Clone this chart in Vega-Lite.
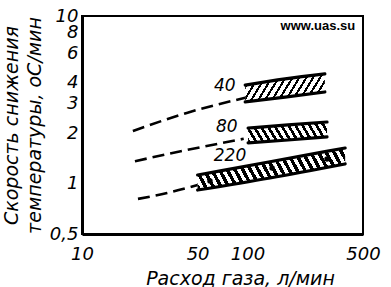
{
  "$schema": "https://vega.github.io/schema/vega-lite/v6.json",
  "width": 281,
  "height": 218,
  "autosize": "none",
  "padding": {"left": 82, "top": 16, "right": 28, "bottom": 53},
  "background": "white",
  "config": {
    "view": {"stroke": "black", "strokeWidth": 2},
    "axis": {
      "grid": false,
      "zindex": 1,
      "ticks": false,
      "domainColor": "black",
      "domainWidth": 3,
      "labelColor": "black",
      "labelFont": "DejaVu Sans",
      "labelFontStyle": "italic",
      "labelFontSize": 18,
      "titleColor": "black",
      "titleFont": "DejaVu Sans",
      "titleFontStyle": "italic",
      "titleFontWeight": "normal",
      "titleFontSize": 19
    }
  },
  "datasets": {
    "bands": [
      {"s": 40, "x": 97, "lo": 3.07, "hi": 3.87},
      {"s": 40, "x": 169, "lo": 3.28, "hi": 4.21},
      {"s": 40, "x": 294, "lo": 3.52, "hi": 4.51},
      {"s": 80, "x": 101, "lo": 1.75, "hi": 2.145},
      {"s": 80, "x": 176, "lo": 1.82, "hi": 2.24},
      {"s": 80, "x": 303, "lo": 1.9, "hi": 2.33},
      {"s": 220, "x": 50, "lo": 0.915, "hi": 1.125},
      {"s": 220, "x": 137, "lo": 1.08, "hi": 1.35},
      {"s": 220, "x": 390, "lo": 1.31, "hi": 1.63}
    ],
    "dashed": [
      {"s": 40, "x": 20.3, "y": 2.06},
      {"s": 40, "x": 43, "y": 2.64},
      {"s": 40, "x": 97, "y": 3.25},
      {"s": 80, "x": 20.9, "y": 1.36},
      {"s": 80, "x": 43, "y": 1.585},
      {"s": 80, "x": 95, "y": 1.85},
      {"s": 220, "x": 21.8, "y": 0.81},
      {"s": 220, "x": 32.7, "y": 0.878},
      {"s": 220, "x": 50, "y": 0.98}
    ],
    "dots": [
      {"x": 59.4, "y": 1.035},
      {"x": 141, "y": 1.24},
      {"x": 303, "y": 1.4}
    ],
    "labels": [
      {"text": "40", "x": 73, "y": 3.82},
      {"text": "80", "x": 75, "y": 2.17},
      {"text": "220", "x": 78.5, "y": 1.46}
    ],
    "mark": [
      {"text": "www.uas.su", "x": 267, "y": 8.24}
    ],
    "xticksMinor": [{"v": 20}, {"v": 30}, {"v": 40}, {"v": 60}, {"v": 70}, {"v": 80}, {"v": 90}, {"v": 200}, {"v": 300}, {"v": 400}],
    "xticksMajor": [{"v": 50}, {"v": 100}],
    "yticksMajor": [{"v": 1}, {"v": 2}, {"v": 3}, {"v": 4}, {"v": 6}, {"v": 8}],
    "yticksMinor": [{"v": 5}, {"v": 7}, {"v": 9}]
  },
  "encoding": {
    "x": {
      "field": "x",
      "type": "quantitative",
      "scale": {"type": "log", "domain": [10, 500], "nice": false},
      "axis": {
        "values": [10, 50, 100, 500],
        "labelExpr": "''+datum.value",
        "labelFlush": false,
        "labelOverlap": false,
        "labelPadding": 11,
        "title": "Расход газа, л/мин",
        "titleX": 158,
        "titleY": 50,
        "titleAlign": "center",
        "titleBaseline": "alphabetic"
      }
    },
    "y": {
      "field": "y",
      "type": "quantitative",
      "scale": {"type": "log", "domain": [0.5, 10], "nice": false},
      "axis": {
        "values": [0.5, 1, 2, 3, 4, 6, 8, 10],
        "labelExpr": "datum.value==0.5 ? '0,5' : ''+datum.value",
        "labelFlush": false,
        "labelOverlap": false,
        "labelPadding": 4,
        "title": ["Скорость снижения", "температуры, oC/мин"],
        "titleAngle": -90,
        "titleX": -80,
        "titleY": 109,
        "titleAlign": "center",
        "titleBaseline": "top",
        "titleLineHeight": 23
      }
    }
  },
  "layer": [
    {
      "data": {"name": "bands"},
      "transform": [{"filter": "datum.s == 40"}],
      "mark": {
        "type": "area",
        "interpolate": "monotone",
        "fill": {
          "gradient": "linear", "x1": 0, "y1": 0, "x2": 1.16, "y2": 0.247,
          "stops": [
            {"offset": 0, "color": "black"}, {"offset": 0.025, "color": "black"}, {"offset": 0.025, "color": "white"}, {"offset": 0.0714, "color": "white"},
            {"offset": 0.0714, "color": "black"}, {"offset": 0.0964, "color": "black"}, {"offset": 0.0964, "color": "white"}, {"offset": 0.1429, "color": "white"},
            {"offset": 0.1429, "color": "black"}, {"offset": 0.1679, "color": "black"}, {"offset": 0.1679, "color": "white"}, {"offset": 0.2143, "color": "white"},
            {"offset": 0.2143, "color": "black"}, {"offset": 0.2393, "color": "black"}, {"offset": 0.2393, "color": "white"}, {"offset": 0.2857, "color": "white"},
            {"offset": 0.2857, "color": "black"}, {"offset": 0.3107, "color": "black"}, {"offset": 0.3107, "color": "white"}, {"offset": 0.3571, "color": "white"},
            {"offset": 0.3571, "color": "black"}, {"offset": 0.3821, "color": "black"}, {"offset": 0.3821, "color": "white"}, {"offset": 0.4286, "color": "white"},
            {"offset": 0.4286, "color": "black"}, {"offset": 0.4536, "color": "black"}, {"offset": 0.4536, "color": "white"}, {"offset": 0.5, "color": "white"},
            {"offset": 0.5, "color": "black"}, {"offset": 0.525, "color": "black"}, {"offset": 0.525, "color": "white"}, {"offset": 0.5714, "color": "white"},
            {"offset": 0.5714, "color": "black"}, {"offset": 0.5964, "color": "black"}, {"offset": 0.5964, "color": "white"}, {"offset": 0.6429, "color": "white"},
            {"offset": 0.6429, "color": "black"}, {"offset": 0.6679, "color": "black"}, {"offset": 0.6679, "color": "white"}, {"offset": 0.7143, "color": "white"},
            {"offset": 0.7143, "color": "black"}, {"offset": 0.7393, "color": "black"}, {"offset": 0.7393, "color": "white"}, {"offset": 0.7857, "color": "white"},
            {"offset": 0.7857, "color": "black"}, {"offset": 0.8107, "color": "black"}, {"offset": 0.8107, "color": "white"}, {"offset": 0.8571, "color": "white"},
            {"offset": 0.8571, "color": "black"}, {"offset": 0.8821, "color": "black"}, {"offset": 0.8821, "color": "white"}, {"offset": 0.9286, "color": "white"},
            {"offset": 0.9286, "color": "black"}, {"offset": 0.9536, "color": "black"}, {"offset": 0.9536, "color": "white"}, {"offset": 1, "color": "white"}
          ]
        },
        "stroke": null
      },
      "encoding": {
        "y": {"field": "lo", "type": "quantitative"},
        "y2": {"field": "hi"}
      }
    },
    {
      "data": {"name": "bands"},
      "transform": [{"filter": "datum.s == 80"}],
      "mark": {
        "type": "area",
        "interpolate": "monotone",
        "fill": {
          "gradient": "linear", "x1": 0, "y1": 1, "x2": 1.127, "y2": 0.826,
          "stops": [
            {"offset": 0, "color": "black"}, {"offset": 0.0346, "color": "black"}, {"offset": 0.0346, "color": "white"}, {"offset": 0.0769, "color": "white"},
            {"offset": 0.0769, "color": "black"}, {"offset": 0.1115, "color": "black"}, {"offset": 0.1115, "color": "white"}, {"offset": 0.1538, "color": "white"},
            {"offset": 0.1538, "color": "black"}, {"offset": 0.1884, "color": "black"}, {"offset": 0.1884, "color": "white"}, {"offset": 0.2308, "color": "white"},
            {"offset": 0.2308, "color": "black"}, {"offset": 0.2654, "color": "black"}, {"offset": 0.2654, "color": "white"}, {"offset": 0.3077, "color": "white"},
            {"offset": 0.3077, "color": "black"}, {"offset": 0.3423, "color": "black"}, {"offset": 0.3423, "color": "white"}, {"offset": 0.3846, "color": "white"},
            {"offset": 0.3846, "color": "black"}, {"offset": 0.4192, "color": "black"}, {"offset": 0.4192, "color": "white"}, {"offset": 0.4615, "color": "white"},
            {"offset": 0.4615, "color": "black"}, {"offset": 0.4961, "color": "black"}, {"offset": 0.4961, "color": "white"}, {"offset": 0.5385, "color": "white"},
            {"offset": 0.5385, "color": "black"}, {"offset": 0.5731, "color": "black"}, {"offset": 0.5731, "color": "white"}, {"offset": 0.6154, "color": "white"},
            {"offset": 0.6154, "color": "black"}, {"offset": 0.65, "color": "black"}, {"offset": 0.65, "color": "white"}, {"offset": 0.6923, "color": "white"},
            {"offset": 0.6923, "color": "black"}, {"offset": 0.7269, "color": "black"}, {"offset": 0.7269, "color": "white"}, {"offset": 0.7692, "color": "white"},
            {"offset": 0.7692, "color": "black"}, {"offset": 0.8038, "color": "black"}, {"offset": 0.8038, "color": "white"}, {"offset": 0.8462, "color": "white"},
            {"offset": 0.8462, "color": "black"}, {"offset": 0.8808, "color": "black"}, {"offset": 0.8808, "color": "white"}, {"offset": 0.9231, "color": "white"},
            {"offset": 0.9231, "color": "black"}, {"offset": 0.9577, "color": "black"}, {"offset": 0.9577, "color": "white"}, {"offset": 1, "color": "white"}
          ]
        },
        "stroke": null
      },
      "encoding": {
        "y": {"field": "lo", "type": "quantitative"},
        "y2": {"field": "hi"}
      }
    },
    {
      "data": {"name": "bands"},
      "transform": [{"filter": "datum.s == 220"}],
      "mark": {
        "type": "area",
        "interpolate": "monotone",
        "fill": {
          "gradient": "linear", "x1": 0, "y1": 1, "x2": 1.1276, "y2": 0.8258,
          "stops": [
            {"offset": 0, "color": "black"}, {"offset": 0.0227, "color": "black"}, {"offset": 0.0227, "color": "white"}, {"offset": 0.0455, "color": "white"},
            {"offset": 0.0455, "color": "black"}, {"offset": 0.0682, "color": "black"}, {"offset": 0.0682, "color": "white"}, {"offset": 0.0909, "color": "white"},
            {"offset": 0.0909, "color": "black"}, {"offset": 0.1136, "color": "black"}, {"offset": 0.1136, "color": "white"}, {"offset": 0.1364, "color": "white"},
            {"offset": 0.1364, "color": "black"}, {"offset": 0.1591, "color": "black"}, {"offset": 0.1591, "color": "white"}, {"offset": 0.1818, "color": "white"},
            {"offset": 0.1818, "color": "black"}, {"offset": 0.2045, "color": "black"}, {"offset": 0.2045, "color": "white"}, {"offset": 0.2273, "color": "white"},
            {"offset": 0.2273, "color": "black"}, {"offset": 0.25, "color": "black"}, {"offset": 0.25, "color": "white"}, {"offset": 0.2727, "color": "white"},
            {"offset": 0.2727, "color": "black"}, {"offset": 0.2955, "color": "black"}, {"offset": 0.2955, "color": "white"}, {"offset": 0.3182, "color": "white"},
            {"offset": 0.3182, "color": "black"}, {"offset": 0.3409, "color": "black"}, {"offset": 0.3409, "color": "white"}, {"offset": 0.3636, "color": "white"},
            {"offset": 0.3636, "color": "black"}, {"offset": 0.3864, "color": "black"}, {"offset": 0.3864, "color": "white"}, {"offset": 0.4091, "color": "white"},
            {"offset": 0.4091, "color": "black"}, {"offset": 0.4318, "color": "black"}, {"offset": 0.4318, "color": "white"}, {"offset": 0.4545, "color": "white"},
            {"offset": 0.4545, "color": "black"}, {"offset": 0.4773, "color": "black"}, {"offset": 0.4773, "color": "white"}, {"offset": 0.5, "color": "white"},
            {"offset": 0.5, "color": "black"}, {"offset": 0.5227, "color": "black"}, {"offset": 0.5227, "color": "white"}, {"offset": 0.5455, "color": "white"},
            {"offset": 0.5455, "color": "black"}, {"offset": 0.5682, "color": "black"}, {"offset": 0.5682, "color": "white"}, {"offset": 0.5909, "color": "white"},
            {"offset": 0.5909, "color": "black"}, {"offset": 0.6136, "color": "black"}, {"offset": 0.6136, "color": "white"}, {"offset": 0.6364, "color": "white"},
            {"offset": 0.6364, "color": "black"}, {"offset": 0.6591, "color": "black"}, {"offset": 0.6591, "color": "white"}, {"offset": 0.6818, "color": "white"},
            {"offset": 0.6818, "color": "black"}, {"offset": 0.7045, "color": "black"}, {"offset": 0.7045, "color": "white"}, {"offset": 0.7273, "color": "white"},
            {"offset": 0.7273, "color": "black"}, {"offset": 0.75, "color": "black"}, {"offset": 0.75, "color": "white"}, {"offset": 0.7727, "color": "white"},
            {"offset": 0.7727, "color": "black"}, {"offset": 0.7955, "color": "black"}, {"offset": 0.7955, "color": "white"}, {"offset": 0.8182, "color": "white"},
            {"offset": 0.8182, "color": "black"}, {"offset": 0.8409, "color": "black"}, {"offset": 0.8409, "color": "white"}, {"offset": 0.8636, "color": "white"},
            {"offset": 0.8636, "color": "black"}, {"offset": 0.8864, "color": "black"}, {"offset": 0.8864, "color": "white"}, {"offset": 0.9091, "color": "white"},
            {"offset": 0.9091, "color": "black"}, {"offset": 0.9318, "color": "black"}, {"offset": 0.9318, "color": "white"}, {"offset": 0.9545, "color": "white"},
            {"offset": 0.9545, "color": "black"}, {"offset": 0.9773, "color": "black"}, {"offset": 0.9773, "color": "white"}, {"offset": 1, "color": "white"}
          ]
        },
        "stroke": null
      },
      "encoding": {
        "y": {"field": "lo", "type": "quantitative"},
        "y2": {"field": "hi"}
      }
    },
    {
      "data": {"name": "bands"},
      "mark": {"type": "line", "interpolate": "monotone", "color": "black", "strokeWidth": 3.2, "strokeCap": "round"},
      "encoding": {
        "y": {"field": "hi", "type": "quantitative"},
        "detail": {"field": "s", "type": "nominal"}
      }
    },
    {
      "data": {"name": "bands"},
      "mark": {"type": "line", "interpolate": "monotone", "color": "black", "strokeWidth": 3.2, "strokeCap": "round"},
      "encoding": {
        "y": {"field": "lo", "type": "quantitative"},
        "detail": {"field": "s", "type": "nominal"}
      }
    },
    {
      "data": {"name": "dashed"},
      "mark": {"type": "line", "interpolate": "monotone", "color": "black", "strokeWidth": 2.6, "strokeDash": [12, 6]},
      "encoding": {
        "detail": {"field": "s", "type": "nominal"}
      }
    },
    {
      "data": {"name": "dots"},
      "mark": {"type": "point", "filled": true, "color": "black", "size": 30, "opacity": 1}
    },
    {
      "data": {"name": "labels"},
      "mark": {"type": "text", "font": "DejaVu Sans", "fontStyle": "italic", "fontSize": 17, "color": "black", "align": "center", "baseline": "middle"},
      "encoding": {"text": {"field": "text"}}
    },
    {
      "data": {"name": "mark"},
      "mark": {"type": "text", "font": "Liberation Sans", "fontWeight": "bold", "fontSize": 13, "color": "black", "align": "center", "baseline": "alphabetic"},
      "encoding": {"text": {"field": "text"}}
    },
    {
      "data": {"name": "xticksMinor"},
      "mark": {"type": "rule", "color": "black", "strokeWidth": 2},
      "encoding": {
        "x": {"field": "v", "type": "quantitative"},
        "y": {"datum": 0.5},
        "y2": {"datum": 0.558}
      }
    },
    {
      "data": {"name": "xticksMajor"},
      "mark": {"type": "rule", "color": "black", "strokeWidth": 2},
      "encoding": {
        "x": {"field": "v", "type": "quantitative"},
        "y": {"datum": 0.5},
        "y2": {"datum": 0.59}
      }
    },
    {
      "data": {"name": "yticksMajor"},
      "mark": {"type": "rule", "color": "black", "strokeWidth": 2},
      "encoding": {
        "y": {"field": "v", "type": "quantitative"},
        "x": {"datum": 10},
        "x2": {"datum": 11.82}
      }
    },
    {
      "data": {"name": "yticksMinor"},
      "mark": {"type": "rule", "color": "black", "strokeWidth": 2},
      "encoding": {
        "y": {"field": "v", "type": "quantitative"},
        "x": {"datum": 10},
        "x2": {"datum": 11.33}
      }
    }
  ]
}
